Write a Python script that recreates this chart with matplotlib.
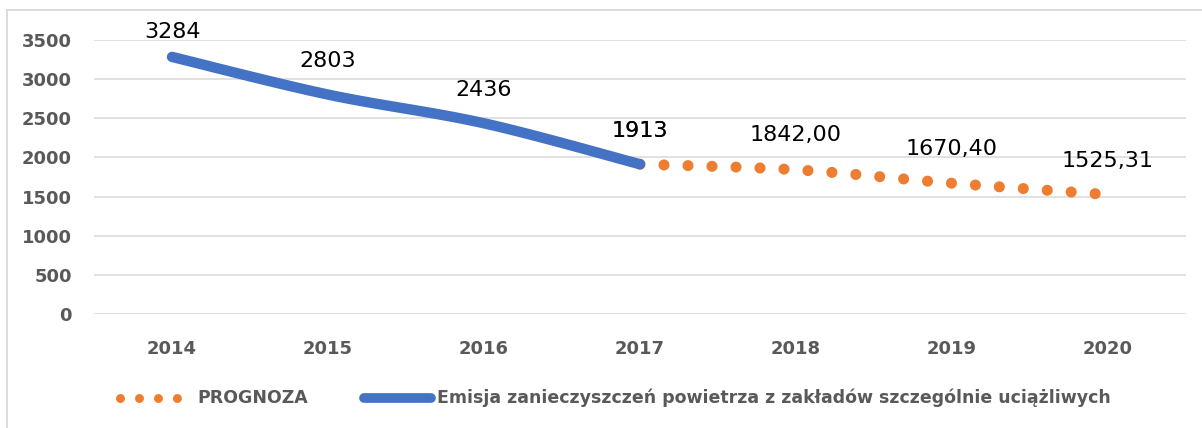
import numpy as np
import matplotlib
matplotlib.use("Agg")
import matplotlib.pyplot as plt
from matplotlib.lines import Line2D

# ---- data ----
years = ["2014", "2015", "2016", "2017", "2018", "2019", "2020"]
emisja_years = ["2014", "2015", "2016", "2017"]
emisja = [3284, 2803, 2436, 1913]
emisja_labels = ["3284", "2803", "2436", "1913"]
prognoza_years = ["2017", "2018", "2019", "2020"]
prognoza = [1913, 1842.00, 1670.40, 1525.31]
prognoza_labels = ["1913", "1842,00", "1670,40", "1525,31"]
yticks = [0, 500, 1000, 1500, 2000, 2500, 3000, 3500]
legend_prognoza = "PROGNOZA"
legend_emisja = "Emisja zanieczyszczeń powietrza z zakładów szczególnie uciążliwych"

# label offsets above points (points) - style only
emisja_label_off = [18, 24, 24, 24]
prognoza_label_off = [24, 25, 24.5, 24]

BLUE = "#4472C4"
ORANGE = "#ED7D31"
GRID = "#D9D9D9"
TICK = "#595959"

W, H = 1202, 428
fig = plt.figure(figsize=(W / 100, H / 100), dpi=100)
ax = fig.add_axes([94 / W, 1 - 314 / H, (1186 - 94) / W, (314 - 40) / H])

xpos = {y: i for i, y in enumerate(years)}


def smooth(x, y, n=40):
    P = np.column_stack([np.asarray(x, float), np.asarray(y, float)])
    out = []
    for i in range(len(P) - 1):
        p0 = P[i - 1] if i > 0 else P[i]
        p1, p2 = P[i], P[i + 1]
        p3 = P[i + 2] if i + 2 < len(P) else P[i + 1]
        c1 = p1 + (p2 - p0) / 6
        c2 = p2 - (p3 - p1) / 6
        t = np.linspace(0, 1, n)[:, None]
        seg = (1 - t) ** 3 * p1 + 3 * (1 - t) ** 2 * t * c1 + 3 * (1 - t) * t ** 2 * c2 + t ** 3 * p2
        out.append(seg if i == 0 else seg[1:])
    return np.vstack(out)


ex = [xpos[y] for y in emisja_years]
px = [xpos[y] for y in prognoza_years]

sp = smooth(px, prognoza)
ax.plot(sp[:, 0], sp[:, 1], color=ORANGE, lw=8, linestyle=(0, (0.001, 2.16)),
        solid_capstyle="round", dash_capstyle="round", zorder=3)
se = smooth(ex, emisja)
ax.plot(se[:, 0], se[:, 1], color=BLUE, lw=7.5, solid_capstyle="round", zorder=4)

for x, v, s, o in zip(ex, emisja, emisja_labels, emisja_label_off):
    ax.annotate(s, (x, v), xytext=(0, o), textcoords="offset points",
                ha="center", va="center", fontsize=16, color="black", zorder=5)
for x, v, s, o in zip(px, prognoza, prognoza_labels, prognoza_label_off):
    ax.annotate(s, (x, v), xytext=(0, o), textcoords="offset points",
                ha="center", va="center", fontsize=16, color="black", zorder=5)

ax.set_xlim(-0.5, len(years) - 0.5)
ax.set_ylim(0, 3500)
ax.set_yticks(yticks)
ax.set_yticklabels([str(v) for v in yticks])
ax.set_xticks(range(len(years)))
ax.set_xticklabels(years)
for lab in ax.get_yticklabels() + ax.get_xticklabels():
    lab.set_fontweight("bold")
    lab.set_fontsize(13)
    lab.set_color(TICK)
ax.tick_params(axis="y", length=0, pad=16)
ax.tick_params(axis="x", length=0, pad=19)
ax.grid(axis="y", color=GRID, lw=1.1)
ax.set_axisbelow(True)
for s in ax.spines.values():
    s.set_visible(False)

# ---- legend ----
def fx(p):
    return p / W


def fy(p):
    return 1 - p / H


ly = 398
fig.add_artist(Line2D([fx(120), fx(177.5)], [fy(ly), fy(ly)], transform=fig.transFigure,
                      color=ORANGE, lw=6.5, linestyle=(0, (0.001, 2.1)),
                      dash_capstyle="round"))
fig.text(fx(197), fy(ly), legend_prognoza, ha="left", va="center", fontsize=12.5,
         fontweight="bold", color=TICK)
fig.add_artist(Line2D([fx(364), fx(431)], [fy(ly), fy(ly)], transform=fig.transFigure,
                      color=BLUE, lw=7, solid_capstyle="round"))
fig.text(fx(437), fy(ly), legend_emisja, ha="left", va="center", fontsize=12.5,
         fontweight="bold", color=TICK)

# ---- chart border (partially visible) ----
fig.add_artist(Line2D([fx(7), fx(W)], [fy(10), fy(10)], transform=fig.transFigure,
                      color=GRID, lw=1.3))
fig.add_artist(Line2D([fx(7), fx(7)], [fy(10), fy(H)], transform=fig.transFigure,
                      color=GRID, lw=1.3))

fig.savefig("out.png", dpi=100)
